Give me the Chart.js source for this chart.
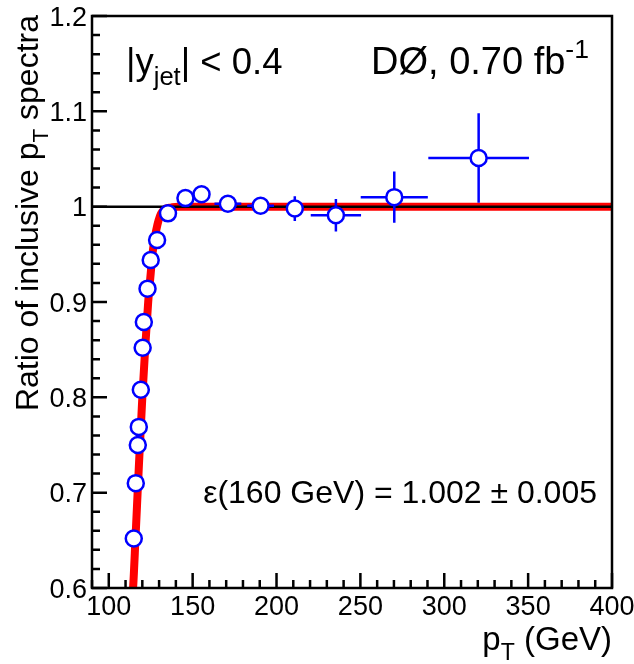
<!DOCTYPE html>
<html>
<head>
<meta charset="utf-8">
<script src="https://cdn.jsdelivr.net/npm/chart.js@4/dist/chart.umd.min.js"></script>
<style>
  html, body { margin: 0; padding: 0; background: #fff; }
  #ratioChart { display: block; }
</style>
</head>
<body>
<canvas id="ratioChart" width="634" height="664"></canvas>
<script>
var ptValues    = [114.9, 116.1, 117.3, 117.9, 119.1, 120.2, 120.9, 123.1, 125.0, 128.8, 135.3, 145.7, 155.3, 171.0, 190.5, 210.9, 235.4, 270.2, 320.5];
var ratioValues = [0.652, 0.710, 0.750, 0.769, 0.808, 0.852, 0.879, 0.914, 0.944, 0.965, 0.993, 1.009, 1.013, 1.003, 1.001, 0.998, 0.991, 1.010, 1.051];
var ptErrors    = [1, 1, 1, 1, 1, 1, 1, 1, 1.5, 2, 3, 4, 4, 8, 8, 4, 15, 20, 30];
var ratioErrors = [0.003, 0.003, 0.003, 0.003, 0.003, 0.003, 0.003, 0.003, 0.003, 0.003, 0.003, 0.004, 0.004, 0.005, 0.007, 0.013, 0.017, 0.027, 0.047];

// fitted efficiency curve
var fitPt    = [113.5, 114.5, 116.0, 118.0, 120.0, 122.0, 123.5, 125.0, 126.0, 127.5, 129.0, 130.5, 132.0, 134.0, 137.0, 141.0, 400.0];
var fitRatio = [0.580, 0.600, 0.655, 0.730, 0.800, 0.860, 0.900, 0.930, 0.950, 0.968, 0.981, 0.990, 0.995, 0.998, 0.999, 1.000, 1.000];

var xTickValues = [100, 150, 200, 250, 300, 350, 400];
var yTickValues = [0.6, 0.7, 0.8, 0.9, 1.0, 1.1, 1.2];

var FONT = '"Liberation Sans", Arial, sans-serif';
var LABEL_SIZE = 27;

function toXY(xs, ys) {
    return xs.map(function (x, i) { return { x: x, y: ys[i] }; });
}

// draws a list of text pieces; each piece can be normal, sub or sup
function drawPieces(ctx, pieces, x, y, size, align) {
    var total = 0;
    pieces.forEach(function (p) {
        var s = p.mode ? size * 0.7 : size;
        ctx.font = s + 'px ' + FONT;
        p.w = ctx.measureText(p.t).width;
        p.s = s;
        total += p.w;
    });
    var cx = align === 'right' ? x - total : x;
    ctx.textAlign = 'left';
    ctx.textBaseline = 'alphabetic';
    pieces.forEach(function (p) {
        ctx.font = p.s + 'px ' + FONT;
        var dy = 0;
        if (p.mode === 'sub') dy = size * 0.3;
        if (p.mode === 'sup') dy = -size * 0.42;
        ctx.fillText(p.t, cx, y + dy);
        cx += p.w;
    });
}

var errorBars = {
    id: 'errorBars',
    beforeDatasetDraw: function (chart, args) {
        if (args.index !== 2) return;
        var ctx = chart.ctx, xs = chart.scales.x, ys = chart.scales.y;
        ctx.save();
        ctx.strokeStyle = '#0000ff';
        ctx.lineWidth = 2.5;
        ptValues.forEach(function (pt, i) {
            var px = xs.getPixelForValue(pt), py = ys.getPixelForValue(ratioValues[i]);
            ctx.beginPath();
            ctx.moveTo(xs.getPixelForValue(pt - ptErrors[i]), py);
            ctx.lineTo(xs.getPixelForValue(pt + ptErrors[i]), py);
            ctx.moveTo(px, ys.getPixelForValue(ratioValues[i] - ratioErrors[i]));
            ctx.lineTo(px, ys.getPixelForValue(ratioValues[i] + ratioErrors[i]));
            ctx.stroke();
        });
        ctx.restore();
    }
};

var frameAndText = {
    id: 'frameAndText',
    afterDraw: function (chart) {
        var ctx = chart.ctx, a = chart.chartArea, xs = chart.scales.x, ys = chart.scales.y;
        ctx.save();
        ctx.strokeStyle = '#000';
        ctx.lineWidth = 2.5;
        ctx.strokeRect(a.left, a.top, a.right - a.left, a.bottom - a.top);

        // inward ticks, like the original
        ctx.beginPath();
        for (var v = 90; v <= 400; v += 10) {
            var px = xs.getPixelForValue(v);
            var len = (v % 50 === 0) ? 15 : 8;
            ctx.moveTo(px, a.bottom);
            ctx.lineTo(px, a.bottom - len);
        }
        for (var k = 0; k <= 30; k++) {
            var py = ys.getPixelForValue(0.6 + k * 0.02);
            var l = (k % 5 === 0) ? 15 : 8;
            ctx.moveTo(a.left, py);
            ctx.lineTo(a.left + l, py);
        }
        ctx.stroke();

        // tick labels
        ctx.fillStyle = '#000';
        ctx.font = LABEL_SIZE + 'px ' + FONT;
        ctx.textBaseline = 'alphabetic';
        ctx.textAlign = 'center';
        xTickValues.forEach(function (t) {
            ctx.fillText(String(t), xs.getPixelForValue(t), a.bottom + 27);
        });
        ctx.textAlign = 'right';
        yTickValues.forEach(function (t) {
            ctx.fillText(String(Number(t.toFixed(1))), a.left - 5, ys.getPixelForValue(t) + LABEL_SIZE * 0.36);
        });

        drawPieces(ctx, [{ t: '|y' }, { t: 'jet', mode: 'sub' }, { t: '| < 0.4' }], 126, 74, 36.5, 'left');
        drawPieces(ctx, [{ t: 'DØ, 0.70 fb' }, { t: '-1', mode: 'sup' }], 589, 74, 38, 'right');
        drawPieces(ctx, [{ t: 'ε(160 GeV) = 1.002 ± 0.005' }], 597, 503, 32, 'right');

        // axis titles
        drawPieces(ctx, [{ t: 'p' }, { t: 'T', mode: 'sub' }, { t: ' (GeV)' }], 612, 650, 33, 'right');
        ctx.save();
        ctx.translate(38, 15);
        ctx.rotate(-Math.PI / 2);
        drawPieces(ctx, [{ t: 'Ratio of inclusive p' }, { t: 'T', mode: 'sub' }, { t: ' spectra' }], 0, 0, 32, 'right');
        ctx.restore();
        ctx.restore();
    }
};

var ctx = document.getElementById('ratioChart').getContext('2d');

var ratioChart = new Chart(ctx, {
    type: 'scatter',
    data: {
        datasets: [
            {
                type: 'line',
                label: 'fit',
                data: toXY(fitPt, fitRatio),
                borderColor: '#ff0000',
                borderWidth: 8,
                pointRadius: 0,
                cubicInterpolationMode: 'monotone',
                fill: false,
                order: 3
            },
            {
                type: 'line',
                label: 'unity',
                data: [{ x: 90, y: 1 }, { x: 400, y: 1 }],
                borderColor: '#000000',
                borderWidth: 2.5,
                pointRadius: 0,
                fill: false,
                order: 2
            },
            {
                label: 'ratio',
                data: toXY(ptValues, ratioValues),
                pointStyle: 'circle',
                pointRadius: 8,
                pointBorderWidth: 2.5,
                pointBorderColor: '#0000ff',
                pointBackgroundColor: '#ffffff',
                order: 1
            }
        ]
    },
    options: {
        responsive: false,
        animation: false,
        devicePixelRatio: 1,
        layout: { padding: { left: 0, top: 16, right: 22, bottom: 0 } },
        plugins: {
            legend: { display: false },
            tooltip: { enabled: false },
            title: { display: false }
        },
        scales: {
            x: {
                type: 'linear',
                min: 90,
                max: 400,
                grid: { display: false, drawTicks: false },
                border: { display: false },
                afterFit: function (scale) { scale.height = 76; },
                ticks: { display: false }
            },
            y: {
                type: 'linear',
                min: 0.6,
                max: 1.2,
                grid: { display: false, drawTicks: false },
                border: { display: false },
                afterFit: function (scale) { scale.width = 92; },
                ticks: { display: false }
            }
        }
    },
    plugins: [errorBars, frameAndText]
});
</script>
</body>
</html>
